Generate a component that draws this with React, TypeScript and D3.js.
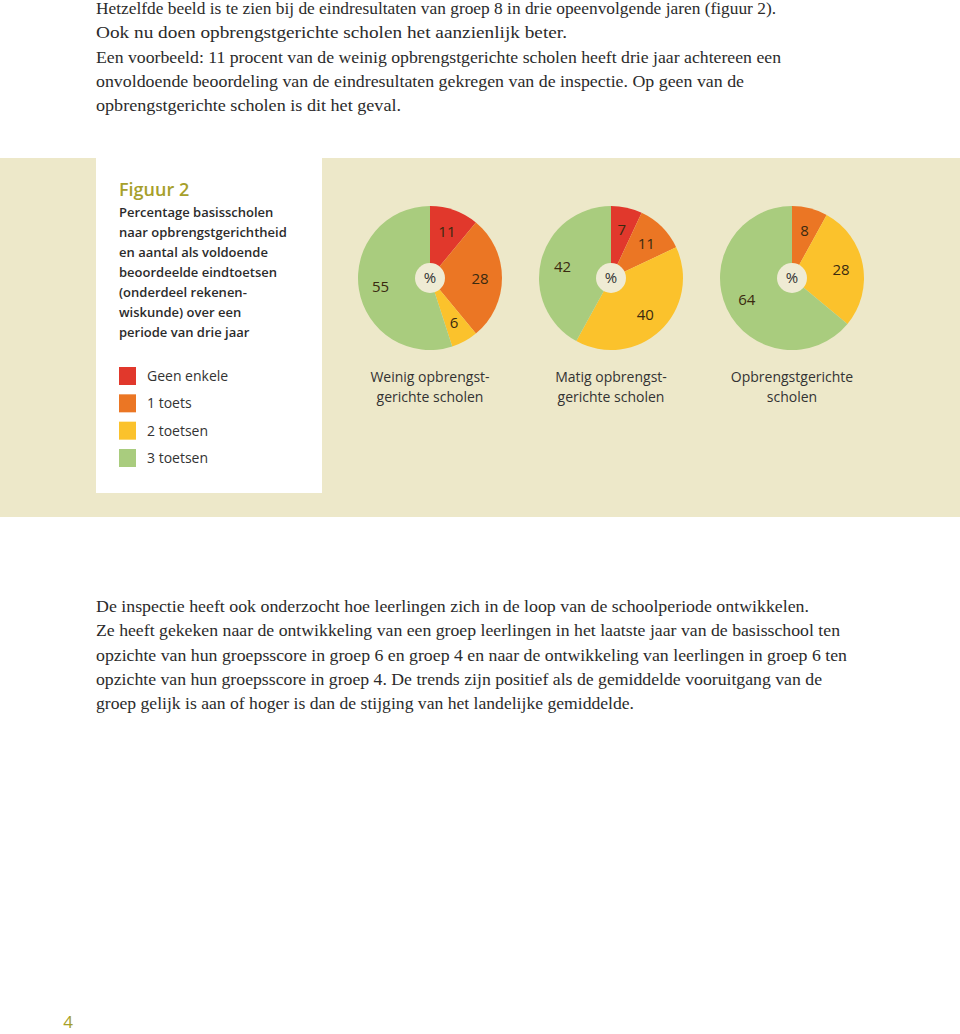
import React from "react";
import * as d3 from "d3";

const categories = ["Geen enkele", "1 toets", "2 toetsen", "3 toetsen"];
const colors = ["#e1382c", "#eb7624", "#fbc22c", "#a9cc7e"];
const groups = [
  ["Weinig opbrengst-", "gerichte scholen"],
  ["Matig opbrengst-", "gerichte scholen"],
  ["Opbrengstgerichte", "scholen"],
];
const weinig = [11, 28, 6, 55];
const matig = [7, 11, 40, 42];
const opbrengst = [0, 8, 28, 64];
const series = [weinig, matig, opbrengst];

const topText: [string, number][] = [
  ["Hetzelfde beeld is te zien bij de eindresultaten van groep 8 in drie opeenvolgende jaren (figuur 2).", 680],
  ["Ook nu doen opbrengstgerichte scholen het aanzienlijk beter.", 471],
  ["Een voorbeeld: 11 procent van de weinig opbrengstgerichte scholen heeft drie jaar achtereen een", 685],
  ["onvoldoende beoordeling van de eindresultaten gekregen van de inspectie. Op geen van de", 648],
  ["opbrengstgerichte scholen is dit het geval.", 305],
];
const bottomText: [string, number][] = [
  ["De inspectie heeft ook onderzocht hoe leerlingen zich in de loop van de schoolperiode ontwikkelen.", 713],
  ["Ze heeft gekeken naar de ontwikkeling van een groep leerlingen in het laatste jaar van de basisschool ten", 744],
  ["opzichte van hun groepsscore in groep 6 en groep 4 en naar de ontwikkeling van leerlingen in groep 6 ten", 751],
  ["opzichte van hun groepsscore in groep 4. De trends zijn positief als de gemiddelde vooruitgang van de", 726],
  ["groep gelijk is aan of hoger is dan de stijging van het landelijke gemiddelde.", 538],
];
const subtitle = [
  "Percentage basisscholen",
  "naar opbrengstgerichtheid",
  "en aantal als voldoende",
  "beoordeelde eindtoetsen",
  "(onderdeel rekenen-",
  "wiskunde) over een",
  "periode van drie jaar",
];

export default function App() {
  const W = 960, H = 1034;
  const x = d3.scalePoint<number>().domain([0, 1, 2]).range([430, 792]);
  const yLegend = d3.scalePoint<number>().domain([0, 1, 2, 3]).range([376, 458]);
  const pie = d3.pie<number>().sort(null).value((d) => d);
  const R = 72;
  const arc = d3.arc<d3.PieArcDatum<number>>().innerRadius(0).outerRadius(R);
  const labelArc = d3.arc<d3.PieArcDatum<number>>().innerRadius(28).outerRadius(72);
  const cy = 278;
  const serif = "'Liberation Serif', serif";
  const sans = "'Open Sans', 'Noto Sans', sans-serif";

  return (
    <svg width={W} height={H} style={{ position: "absolute", left: 0, top: 0, background: "#fff" }}>
      <rect x={0} y={0} width={W} height={H} fill="#fff" />
      {topText.map(([t, w], i) => (
        <text key={"t" + i} x={96} y={14 + i * 24.3} fontFamily={serif} fontSize={17} fill="#2b2b2b"
          textLength={w} lengthAdjust="spacingAndGlyphs">{t}</text>
      ))}
      <rect x={0} y={158} width={W} height={359} fill="#ede8c9" />
      <rect x={96} y={158} width={226} height={335} fill="#fff" />
      <text x={119} y={196} fontFamily={sans} fontSize={18} fontWeight={600} fill="#a6a02a">Figuur 2</text>
      {subtitle.map((t, i) => (
        <text key={"s" + i} x={119} y={217 + i * 20} fontFamily={sans} fontSize={13} fontWeight={600} fill="#2b2b2b">{t}</text>
      ))}
      {categories.map((c, i) => (
        <g key={"l" + i}>
          <rect x={119} y={yLegend(i)! - 9} width={17} height={18} fill={colors[i]} />
          <text x={147} y={yLegend(i)! + 5} fontFamily={sans} fontSize={14} fill="#333">{c}</text>
        </g>
      ))}
      {series.map((vals, gi) => {
        const arcs = pie(vals);
        const cx = x(gi)!;
        return (
          <g key={"p" + gi}>
            <g transform={`translate(${cx},${cy})`}>
              {arcs.map((a, i) => a.value > 0 && (
                <path key={i} d={arc(a)!} fill={colors[i]} />
              ))}
              {arcs.map((a, i) => {
                if (a.value <= 0) return null;
                const [lx, ly] = labelArc.centroid(a);
                return (
                  <text key={"v" + i} x={lx} y={ly + 6} textAnchor="middle" fontFamily={sans} fontSize={15} fill="#3a2a10">{a.value}</text>
                );
              })}
              <circle r={15} fill="#efebd4" />
              <text y={5} textAnchor="middle" fontFamily={sans} fontSize={15} fill="#333">%</text>
            </g>
            {groups[gi].map((t, li) => (
              <text key={"g" + li} x={cx} y={382 + li * 20} textAnchor="middle" fontFamily={sans} fontSize={14} fill="#333">{t}</text>
            ))}
          </g>
        );
      })}
      {bottomText.map(([t, w], i) => (
        <text key={"b" + i} x={96} y={612 + i * 24.3} fontFamily={serif} fontSize={17} fill="#2b2b2b"
          textLength={w} lengthAdjust="spacingAndGlyphs">{t}</text>
      ))}
      <text x={68} y={1028} textAnchor="middle" fontFamily={sans} fontSize={17} fill="#a6a02a">4</text>
    </svg>
  );
}
